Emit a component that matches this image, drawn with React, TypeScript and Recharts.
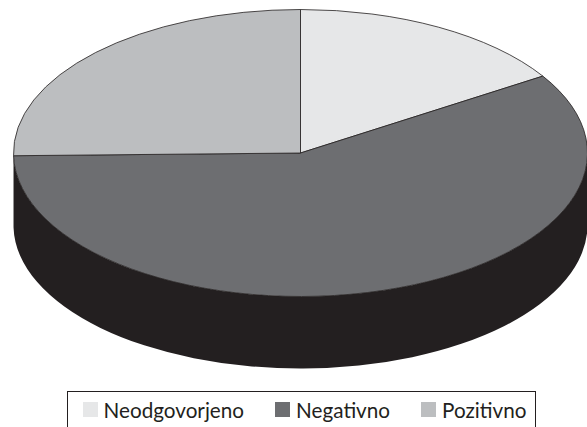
import { Legend, Pie, PieChart } from "recharts";

const CATEGORIES = ["Neodgovorjeno", "Negativno", "Pozitivno"];
const SHARES = [16, 58.7, 25.3];
const COLORS = ["#e6e7e8", "#6d6e71", "#bcbec0"];

const WALL = "#231f20";
const TILT = 0.5; // vertical squash of the disc
const DEPTH = 72; // height of the side wall

const data = CATEGORIES.map((name, i) => ({ name, value: SHARES[i], fill: COLORS[i] }));

// Recharts only draws round sectors, so the shape redraws each one as a tilted
// disc slice, with the extruded wall underneath wherever it faces the viewer.
function TiltedSector(props: any) {
  const { cx, cy, outerRadius: r, startAngle, endAngle, fill } = props;
  const ry = r * TILT;
  const pt = (deg: number, dy = 0) => {
    const a = (deg * Math.PI) / 180;
    return `${cx + r * Math.cos(a)} ${cy - ry * Math.sin(a) + dy}`;
  };
  const large = startAngle - endAngle > 180 ? 1 : 0;
  const top = `M${cx} ${cy}L${pt(startAngle)}A${r} ${ry} 0 ${large} 1 ${pt(endAngle)}Z`;

  const wallFrom = Math.min(startAngle, 0);
  const wallTo = Math.max(endAngle, -180);
  const wall =
    wallFrom > wallTo
      ? `M${pt(wallFrom)}A${r} ${ry} 0 0 1 ${pt(wallTo)}L${pt(wallTo, DEPTH)}A${r} ${ry} 0 0 0 ${pt(wallFrom, DEPTH)}Z`
      : null;

  return (
    <g>
      {wall && <path d={wall} fill={WALL} />}
      <path d={top} fill={fill} stroke={WALL} strokeWidth={0.8} strokeLinejoin="round" />
    </g>
  );
}

function LegendBox({ payload }: any) {
  return (
    <div
      style={{
        display: "flex",
        alignItems: "center",
        justifyContent: "center",
        gap: 31,
        height: 50,
        boxSizing: "border-box",
        paddingBottom: 13,
        paddingLeft: 6,
        border: `1px solid ${WALL}`,
        background: "#fff",
        fontFamily: "Lato, sans-serif",
        fontSize: 20.7,
        color: WALL,
      }}
    >
      {(payload ?? []).map((entry: any) => (
        <span key={entry.value} style={{ display: "flex", alignItems: "center", gap: 6 }}>
          <span style={{ width: 15, height: 15, background: entry.color }} />
          {entry.value}
        </span>
      ))}
    </div>
  );
}

export default function App() {
  return (
    <div style={{ position: "absolute", left: 0, top: 0, width: 587, height: 427, overflow: "hidden", background: "#fff" }}>
      <PieChart width={587} height={427} margin={{ top: 0, right: 0, bottom: 0, left: 0 }}>
        <Pie
          data={data}
          dataKey="value"
          nameKey="name"
          cx={300.5}
          cy={153}
          outerRadius={287}
          startAngle={90}
          endAngle={-270}
          shape={TiltedSector}
          isAnimationActive={false}
        />
        <Legend
          content={<LegendBox />}
          itemSorter={null}
          wrapperStyle={{ left: 67, top: 391, width: 469, bottom: "auto" }}
        />
      </PieChart>
    </div>
  );
}
